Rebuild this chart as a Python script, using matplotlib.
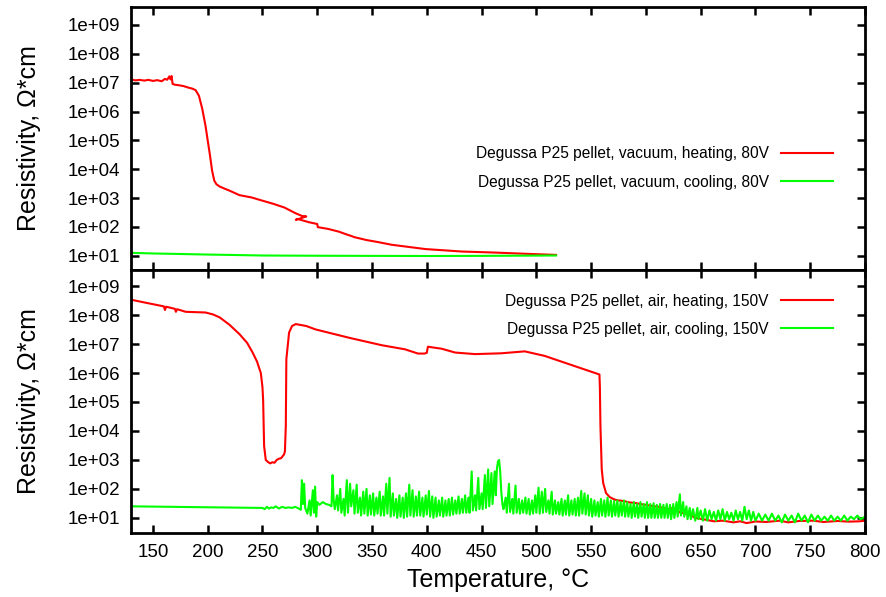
#!/usr/bin/env python3
"""
Resistivity vs temperature of Degussa P25 TiO2 pellets,
vacuum run (top) and air run (bottom).
"""
import numpy as np
import matplotlib
matplotlib.use('Agg')
import matplotlib.pyplot as plt
from matplotlib.ticker import FixedLocator, FuncFormatter

plt.rcParams['font.family'] = ['Liberation Sans', 'DejaVu Sans']

# ── Vacuum, heating, 80 V ─────────────────────────────────────────
vac_heat_T = [130, 134, 138, 142, 146, 150, 154, 158, 161, 163, 165, 166, 167, 168,
              170, 174, 178, 182, 186, 189, 192, 195, 198, 200, 202, 204, 206, 208,
              211, 215, 220, 229, 240, 250, 260, 270, 280, 286, 290, 280.4, 281.7,
              292.5, 300, 300.5, 310, 320, 326, 330, 334, 345, 355, 368, 380, 399,
              415, 432, 462, 490, 518]
vac_heat_rho = [1.3e7, 1.2e7, 1.25e7, 1.18e7, 1.25e7, 1.15e7, 1.22e7, 1.12e7, 1.35e7,
                1.26e7, 1.65e7, 1.3e7, 1.7e7, 9e6, 8.5e6, 8.1e6, 7.6e6, 6.8e6, 6.2e6,
                5.5e6, 3.5e6, 1.26e6, 3.2e5, 1e5, 3.2e4, 9e3, 4e3, 3e3, 2.5e3, 2.15e3,
                1.8e3, 1.26e3, 1.05e3, 8.1e2, 6.3e2, 4.7e2, 3e2, 2.4e2, 2.3e2, 1.75e2,
                1.9e2, 1.45e2, 1.26e2, 98, 85, 68, 56, 50, 44, 35, 30, 24, 21, 17, 15.5,
                14, 12.9, 11.7, 10.7]

# ── Vacuum, cooling, 80 V ─────────────────────────────────────────
vac_cool_T = [130, 150, 175, 200, 225, 250, 300, 350, 400, 450, 518]
vac_cool_rho = [12.6, 12.0, 11.5, 11.0, 10.6, 10.2, 10.0, 9.9, 9.8, 9.9, 10.2]

# ── Air, heating, 150 V ───────────────────────────────────────────
air_heat_T = [130, 145, 160, 161, 162, 170, 171, 172, 180, 190, 198, 205, 211, 220,
              229, 236, 241, 245, 248.5, 250, 250.6, 251.5, 253, 255, 257, 259, 261,
              263, 265, 267, 269.7, 270.5, 271.3, 271.8, 274.3, 277, 280.4, 290, 298.5,
              328.8, 359, 380, 392, 398, 400, 401, 413.6, 425.8, 444, 468, 489.4,
              507.6, 534.9, 557.6, 558, 558.5, 559.7, 561, 563.6, 567, 571.3, 575, 580,
              585, 589.5, 595, 600, 607.6, 612, 620, 625, 631.8, 638, 645, 652, 662,
              670, 680, 686, 692, 700, 710, 722, 730, 740, 753, 762, 775, 785, 795, 800]
air_heat_rho = [3.4e8, 2.6e8, 2.0e8, 1.5e8, 1.95e8, 1.65e8, 1.3e8, 1.6e8, 1.3e8, 1.26e8,
                1.23e8, 1.05e8, 8.3e7, 4.6e7, 2.2e7, 1.1e7, 5.1e6, 2.5e6, 1.0e6, 3.2e5,
                1.2e5, 3e3, 1.0e3, 8.5e2, 7.6e2, 8.3e2, 8e2, 1.0e3, 1.1e3, 1.15e3, 1.55e3,
                2e3, 1.5e4, 3e6, 2.5e7, 4.2e7, 4.9e7, 4.2e7, 3.2e7, 1.66e7, 9.1e6, 6.6e6,
                4.7e6, 4.7e6, 5e6, 8.1e6, 6.9e6, 5.1e6, 4.5e6, 4.8e6, 5.6e6, 3.9e6, 1.74e6,
                8.9e5, 3.2e5, 1.5e4, 4.7e2, 1.6e2, 72, 52, 43, 40, 38, 34, 33, 30, 28, 25,
                24, 20, 22, 15, 14, 10, 9, 7.6, 8, 7, 7.6, 6.6, 7.5, 7.2, 8, 7, 7.8, 8,
                7.2, 7.8, 7.4, 7.6, 8]

# ── Air, cooling, 150 V ───────────────────────────────────────────
air_cool_T = [130, 250, 252, 254, 256, 258, 260, 262, 265, 268, 271, 274, 277, 280,
              283, 285, 286, 287, 288, 289, 291, 293, 294, 296, 297, 298, 299, 300,
              302, 305, 308, 311, 313, 314, 315, 316, 318, 319, 321, 322, 324, 325,
              327, 328, 330, 331, 333, 334, 336, 337, 339, 340, 342, 343, 345, 346,
              348, 349, 351, 352, 354, 355, 357, 358, 360, 361, 363, 364, 366, 367,
              369, 370, 372, 373, 375, 376, 378, 379, 381, 382, 384, 385, 387, 388,
              390, 391, 393, 394, 396, 397, 399, 400, 402, 403, 405, 406, 408, 409,
              411, 412, 414, 415, 417, 418, 420, 421, 423, 424, 426, 427, 429, 430,
              432, 433, 435, 436, 438, 439, 441, 442, 444, 445, 447, 448, 450, 451,
              453, 454, 456, 457, 459, 460, 462, 463, 464, 465, 466, 467, 468, 469,
              470, 472, 473, 475, 476, 478, 479, 481, 482, 484, 485, 487, 488, 490,
              491, 493, 494, 496, 497, 499, 500, 502, 503, 505, 506, 508, 509, 511,
              512, 514, 515, 517, 518, 520, 521, 523, 524, 526, 527, 529, 530, 532,
              533, 535, 536, 538, 539, 541, 542, 544, 545, 547, 548, 550, 551, 553,
              554, 556, 557, 559, 560, 562, 563, 565, 566, 568, 569, 571, 572, 574,
              575, 577, 578, 580, 581, 583, 584, 586, 587, 589, 590, 592, 593, 595,
              596, 598, 599, 601, 602, 604, 605, 607, 608, 610, 611, 613, 614, 616,
              617, 619, 620, 622, 623, 625, 626, 628, 629, 631, 632, 634, 635, 637,
              638, 640, 641, 643, 645, 647, 648, 650, 652, 654, 656, 658, 660, 662,
              664, 666, 668, 670, 672, 674, 676, 678, 680, 682, 684, 686, 688, 690,
              692, 694, 696, 698, 700, 703, 706, 709, 712, 715, 718, 721, 724, 727,
              730, 733, 736, 739, 742, 745, 748, 751, 754, 757, 760, 763, 766, 769,
              772, 775, 778, 781, 784, 787, 790, 793, 796, 800]
air_cool_rho = [25, 22, 20, 24, 21, 23, 22, 25, 21, 24, 22, 23, 22, 24,
                21, 19, 200, 30, 150, 22, 14, 40, 12, 90, 15, 120, 11, 35,
                28, 35, 30, 28, 25, 300, 40, 20, 60, 18, 100, 15, 45, 12,
                200, 15, 150, 25, 90, 14, 140, 15, 50, 12, 80, 14, 100, 12,
                60, 13, 70, 12, 50, 14, 80, 12, 55, 12, 150, 14, 240, 11,
                70, 12, 45, 10, 60, 11, 50, 10, 70, 11, 140, 12, 90, 11,
                55, 12, 80, 12, 50, 11, 60, 13, 85, 11, 55, 10, 50, 11,
                40, 12, 50, 11, 40, 12, 45, 12, 50, 13, 40, 14, 55, 14,
                45, 15, 60, 15, 50, 15, 400, 18, 60, 18, 240, 20, 70, 20,
                300, 22, 470, 25, 350, 30, 400, 60, 500, 900, 1000, 400, 80, 30,
                20, 50, 15, 150, 16, 45, 14, 130, 15, 45, 14, 40, 15, 50,
                14, 45, 13, 40, 14, 60, 15, 110, 14, 80, 15, 100, 16, 40,
                14, 80, 13, 40, 14, 35, 13, 45, 12, 40, 13, 60, 12, 40,
                13, 45, 12, 50, 12, 85, 14, 70, 13, 60, 12, 45, 11, 40,
                12, 35, 11, 45, 12, 40, 11, 50, 12, 40, 11, 38, 12, 40,
                11, 35, 12, 40, 11, 35, 11, 30, 10, 35, 11, 30, 10, 35,
                11, 30, 10, 35, 10, 30, 10, 32, 10, 28, 10, 30, 10, 28,
                10, 30, 10, 28, 9, 30, 10, 35, 11, 65, 12, 35, 11, 25,
                9, 22, 9, 20, 8, 22, 9, 18, 8, 20, 8, 18, 9, 16,
                8, 18, 9, 20, 8, 16, 9, 15, 8, 18, 9, 16, 8, 24,
                9, 18, 8, 16, 8, 14, 8, 13, 8, 14, 8, 12, 7, 13,
                8, 12, 7, 14, 8, 12, 7, 13, 8, 12, 8, 11, 8, 12,
                8, 11, 8, 12, 8, 11, 9, 12, 9, 11]

RED = '#ff0000'
GREEN = '#00ff00'
decades = [1e1, 1e2, 1e3, 1e4, 1e5, 1e6, 1e7, 1e8, 1e9]
xticks = [150, 200, 250, 300, 350, 400, 450, 500, 550, 600, 650, 700, 750, 800]

fig = plt.figure(figsize=(8.87, 5.97), dpi=100)
ax_top = fig.add_axes([0.1477, 0.5477, 0.8275, 0.4406])
ax_bot = fig.add_axes([0.1477, 0.1072, 0.8275, 0.4405])

ax_top.plot(vac_heat_T, vac_heat_rho, color=RED, lw=1.5,
            label='Degussa P25 pellet, vacuum, heating, 80V')
ax_top.plot(vac_cool_T, vac_cool_rho, color=GREEN, lw=1.5,
            label='Degussa P25 pellet, vacuum, cooling, 80V')
ax_bot.plot(air_heat_T, air_heat_rho, color=RED, lw=1.5,
            label='Degussa P25 pellet, air, heating, 150V')
ax_bot.plot(air_cool_T, air_cool_rho, color=GREEN, lw=1.5,
            label='Degussa P25 pellet, air, cooling, 150V')

ax_top.set_ylim(3.2, 4.2e9)
ax_bot.set_ylim(3.0, 3.6e9)

for ax in (ax_top, ax_bot):
    ax.set_yscale('log')
    ax.set_xlim(130, 800)
    ax.yaxis.set_major_locator(FixedLocator(decades))
    ax.yaxis.set_minor_locator(FixedLocator([]))
    ax.yaxis.set_major_formatter(FuncFormatter(lambda v, p: f"{v:.0e}"))
    ax.xaxis.set_major_locator(FixedLocator(xticks))
    ax.tick_params(direction='in', top=True, right=True, length=6, width=1.8,
                   labelsize=13.5, pad=8)
    for sp in ax.spines.values():
        sp.set_linewidth(2.0)
    ax.set_ylabel('Resistivity, Ω*cm', fontsize=18, labelpad=19)

ax_top.tick_params(labelbottom=False)
ax_bot.set_xlabel('Temperature, °C', fontsize=18, labelpad=5)

leg_kw = dict(loc='upper right', frameon=False, markerfirst=False, fontsize=11.2,
              handlelength=3.3, handletextpad=0.8, labelspacing=0.85,
              borderpad=0, borderaxespad=0)
ax_top.legend(bbox_to_anchor=(0.956, 0.47), **leg_kw)
ax_bot.legend(bbox_to_anchor=(0.956, 0.91), **leg_kw)

fig.savefig('out.png', dpi=100)
plt.close(fig)
